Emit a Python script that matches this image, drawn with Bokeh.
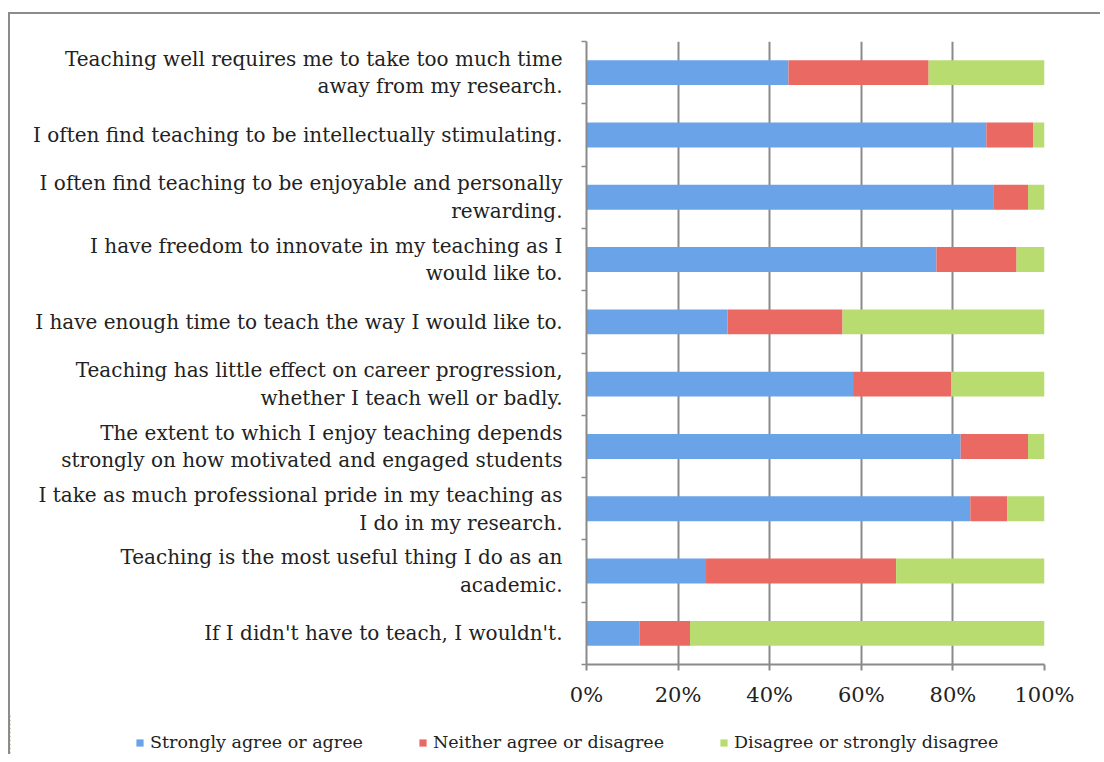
from bokeh.plotting import figure
from bokeh.layouts import column
from bokeh.models import ColumnDataSource, Range1d, FixedTicker, Legend, LegendItem
from bokeh.embed import file_html
from bokeh.resources import INLINE

categories = [
    "Teaching well requires me to take too much time\naway from my research.",
    "I often find teaching to be intellectually stimulating.",
    "I often find teaching to be enjoyable and personally\nrewarding.",
    "I have freedom to innovate in my teaching as I\nwould like to.",
    "I have enough time to teach the way I would like to.",
    "Teaching has little effect on career progression,\nwhether I teach well or badly.",
    "The extent to which I enjoy teaching depends\nstrongly on how motivated and engaged students",
    "I take as much professional pride in my teaching as\nI do in my research.",
    "Teaching is the most useful thing I do as an\nacademic.",
    "If I didn't have to teach, I wouldn't.",
]
agree = [44.1, 87.3, 88.8, 76.4, 30.8, 58.2, 81.7, 83.8, 26.1, 11.6]
neither = [30.6, 10.2, 7.6, 17.5, 25.1, 21.4, 14.7, 8.1, 41.5, 11.0]
disagree = [25.3, 2.5, 3.6, 6.1, 44.1, 20.4, 3.6, 8.1, 32.4, 77.4]
series = ["Strongly agree or agree", "Neither agree or disagree", "Disagree or strongly disagree"]
x_ticks = [0, 20, 40, 60, 80, 100]
x_tick_labels = ["0%", "20%", "40%", "60%", "80%", "100%"]

colors = ["#6ba3e9", "#ea6963", "#b8dc6f"]
FONT = "DejaVu Serif"
GRID = "#8a8a8a"
TXT = "#222222"

ypos = [i + 0.5 for i in range(len(categories))]
source = ColumnDataSource(dict(y=ypos, agree=agree, neither=neither, disagree=disagree))

p = figure(width=1090, height=700, output_backend="svg", toolbar_location=None,
           x_range=Range1d(0, 100), y_range=Range1d(len(categories), 0),
           min_border_left=576, min_border_right=56, min_border_top=27, min_border_bottom=50)
p.outline_line_color = None

renderers = p.hbar_stack(["agree", "neither", "disagree"], y="y", height=0.40,
                         color=colors, source=source, line_color=None)

# x axis
p.xaxis.ticker = FixedTicker(ticks=x_ticks, minor_ticks=[])
p.xaxis.major_label_overrides = {t: l for t, l in zip(x_ticks, x_tick_labels)}
p.xaxis.axis_line_color = GRID
p.xaxis.axis_line_width = 2
p.xaxis.major_tick_line_color = GRID
p.xaxis.major_tick_line_width = 2
p.xaxis.major_tick_out = 6
p.xaxis.major_tick_in = 0
p.xaxis.major_label_standoff = 12
p.xaxis.major_label_text_font = FONT
p.xaxis.major_label_text_font_size = "21px"
p.xaxis.major_label_text_color = TXT

# y axis: labels at category centres, ticks at boundaries
p.yaxis.ticker = FixedTicker(ticks=ypos, minor_ticks=list(range(len(categories) + 1)))
p.yaxis.major_label_overrides = {y: c for y, c in zip(ypos, categories)}
p.yaxis.axis_line_color = GRID
p.yaxis.axis_line_width = 2
p.yaxis.major_tick_line_color = None
p.yaxis.major_tick_out = 0
p.yaxis.major_tick_in = 0
p.yaxis.minor_tick_line_color = GRID
p.yaxis.minor_tick_line_width = 1.5
p.yaxis.minor_tick_out = 5
p.yaxis.minor_tick_in = 0
p.yaxis.major_label_standoff = 19
p.yaxis.major_label_text_font = FONT
p.yaxis.major_label_text_font_size = "20px"
p.yaxis.major_label_text_color = TXT
p.yaxis.major_label_text_line_height = 1.15

p.xgrid.grid_line_color = GRID
p.xgrid.grid_line_width = 2
p.ygrid.grid_line_color = None

# legend strip below the chart (same series, drawn outside its visible range)
leg = figure(width=1090, height=40, output_backend="svg", toolbar_location=None,
             x_range=Range1d(1000, 1100), y_range=Range1d(len(categories), 0),
             x_axis_type=None, y_axis_type=None,
             min_border_left=0, min_border_right=0, min_border_top=0, min_border_bottom=0)
leg.outline_line_color = None
leg.grid.grid_line_color = None
swatches = leg.hbar_stack(["agree", "neither", "disagree"], y="y", height=0.40,
                          color=colors, source=source, line_color=None)
legend = Legend(items=[LegendItem(label=s, renderers=[r]) for s, r in zip(series, swatches)],
                orientation="horizontal", location=(125, 2),
                glyph_width=9, glyph_height=9, label_standoff=6, spacing=55,
                padding=0, margin=0, border_line_color=None, background_fill_alpha=0,
                label_text_font=FONT, label_text_font_size="17.5px", label_text_color=TXT)
leg.add_layout(legend)

for fig in (p, leg):
    if "frame_align" in fig.properties():
        fig.frame_align = False

layout = column(p, leg, spacing=0,
                styles={"margin-left": "8px", "margin-top": "12px",
                        "border-left": "2px solid #8c8c8c", "border-top": "2px solid #8c8c8c"})

open("out.html", "w").write(file_html(layout, INLINE))
